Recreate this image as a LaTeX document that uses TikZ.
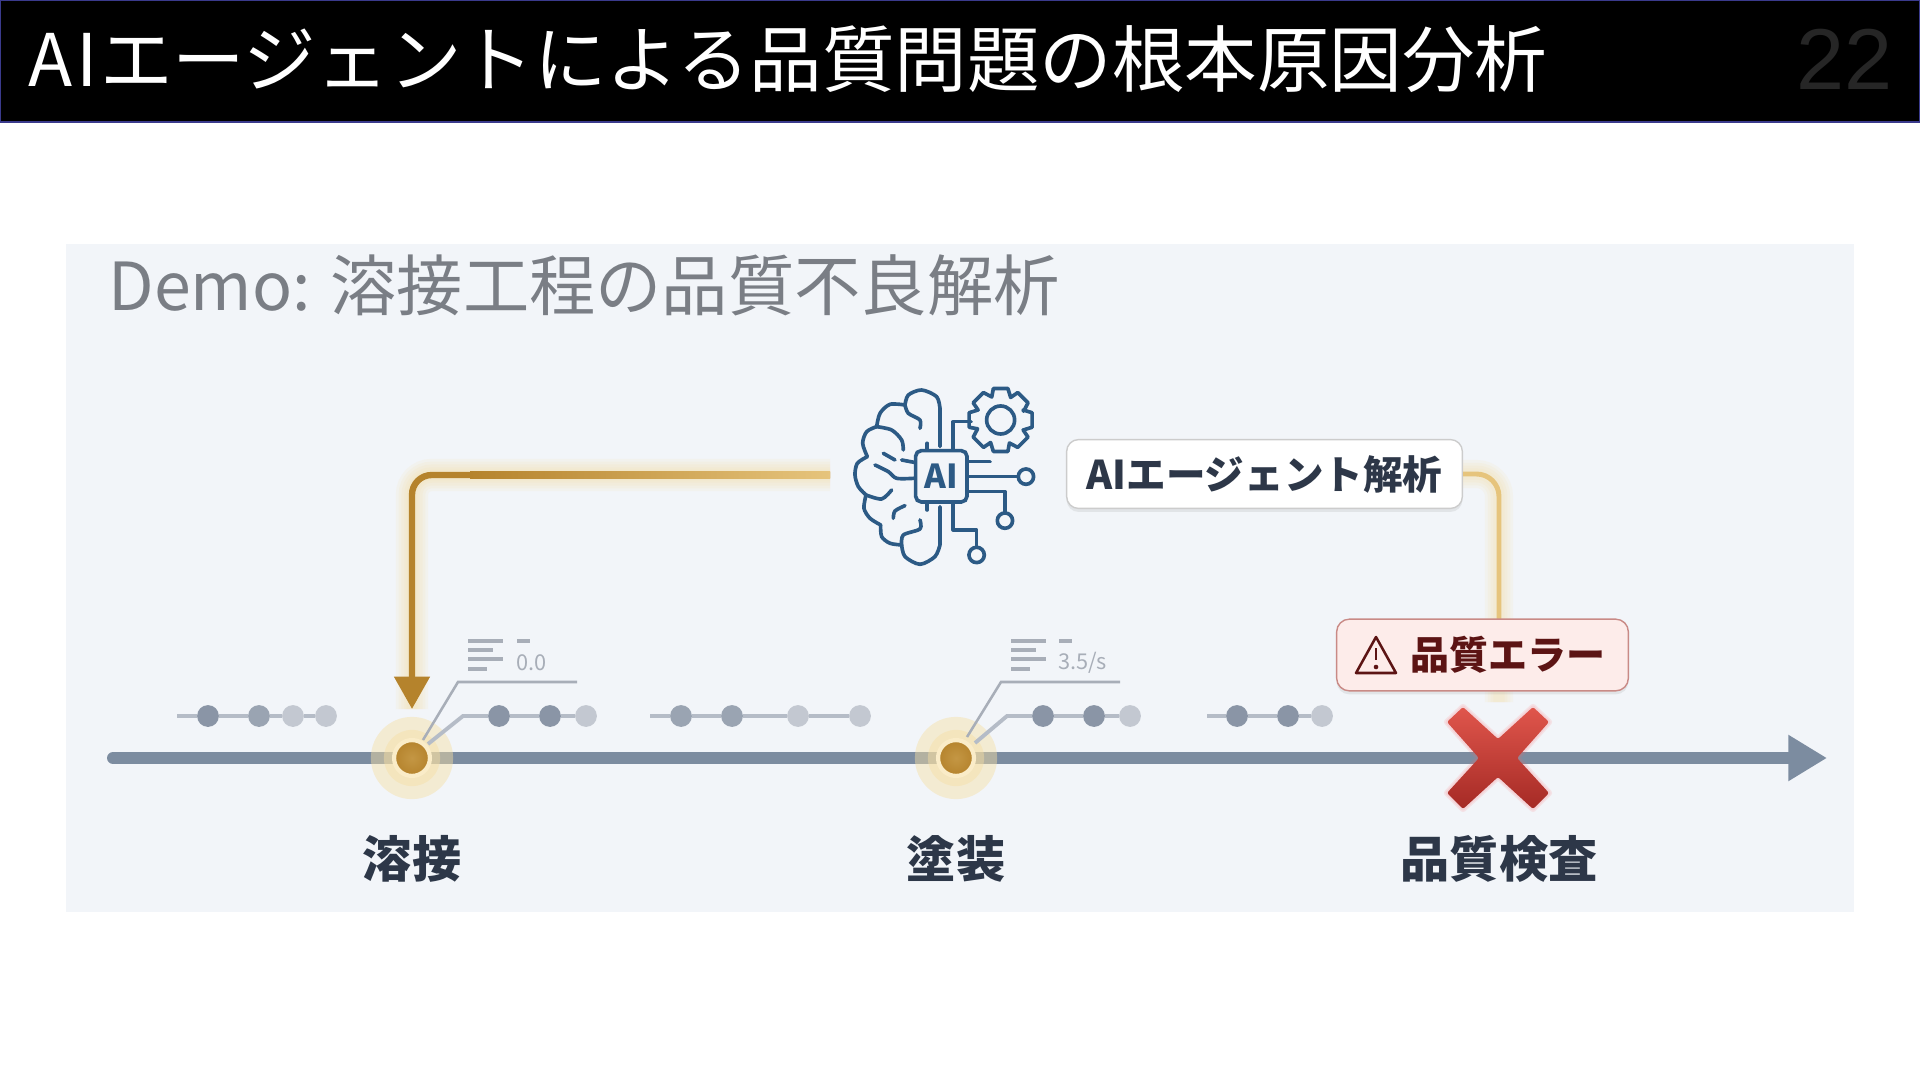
\documentclass[tikz,border=0pt]{standalone}
\usepackage{fontspec}
\setmainfont{Noto Sans CJK JP}
\newfontfamily\pagefont{Liberation Sans}
\usetikzlibrary{arrows.meta,shadows}

\definecolor{panelbg}{HTML}{F2F5F9}
\definecolor{headline}{HTML}{3A3A8C}
\definecolor{slate}{HTML}{7C8CA0}
\definecolor{inktext}{HTML}{2D3748}
\definecolor{demotext}{HTML}{7A7E85}
\definecolor{amberdark}{HTML}{B5832C}
\definecolor{amberlight}{HTML}{E6C47C}
\definecolor{amberglow}{HTML}{F6DFA4}
\definecolor{brainblue}{HTML}{2C5A85}
\definecolor{dotdark}{HTML}{8A95A6}
\definecolor{dotmid}{HTML}{9AA4B2}
\definecolor{dotlight}{HTML}{C3C8D1}
\definecolor{seqline}{HTML}{B5BCC7}
\definecolor{tagline}{HTML}{A8AEB8}
\definecolor{errfill}{HTML}{FDECEA}
\definecolor{errline}{HTML}{C98A86}
\definecolor{errtext}{HTML}{5C1414}
\definecolor{crosstop}{HTML}{E0564C}
\definecolor{crossbottom}{HTML}{A52A25}

\tikzset{
	seqdot/.style={circle, inner sep=0pt, minimum size=31pt},
	seqlink/.style={seqline, line width=5.5pt},
	tagrule/.style={tagline, line width=5pt},
	callout/.style={tagline, line width=3.6pt},
	taglabel/.style={tagline, anchor=west, font=\fontsize{31}{31}\selectfont},
	steplabel/.style={text=inktext, font=\bfseries\fontsize{70}{70}\selectfont},
	halo/.style={circle, inner sep=0pt, fill=amberglow, opacity=.45},
	stepcore/.style={circle, inner sep=0pt, minimum size=51pt, draw=amberglow!60!white, line width=6pt, inner color=amberdark!70!amberlight, outer color=amberdark},
	brainline/.style={brainblue, line width=5.2pt, line cap=round, line join=round},
}

\begin{document}
\begin{tikzpicture}[x=0.05cm, y=-0.05cm]
	\useasboundingbox (0,0) rectangle (1920,1080);
	\fill[white] (0,0) rectangle (1920,1080);
	% header
	\draw[fill=black, draw=headline, line width=2pt] (0.7,0.7) rectangle (1919.3,122);
	\node[white, anchor=west, font=\fontsize{103.2}{103.2}\selectfont] (title) at (26,59) {A\hspace{0.05em}I\hspace{0.04em}エージェントによる品質問題の根本原因分析};
	\node[black!85!white, anchor=east, font=\pagefont\fontsize{123}{123}\selectfont] (pageno) at (1895,59) {22};
	% panel
	\fill[panelbg] (66,244) rectangle (1854,912);
	\node[demotext, anchor=west, font=\fontsize{94.3}{94.3}\selectfont] (demo) at (106,285) {Demo: 溶接工程の品質不良解析};
	% timeline
	\coordinate (linestart) at (113,758);
	\coordinate (lineend) at (1827,758);
	\draw[slate, line width=17pt, line cap=round, -{Triangle[length=55pt, width=62pt]}] (linestart) -- (lineend);
	% steps
	\node[halo, minimum size=117pt] (weldhalo) at (412,758) {};
	\node[halo, minimum size=80pt] (weldinner) at (412,758) {};
	\node[halo, minimum size=117pt] (painthalo) at (956,758) {};
	\node[halo, minimum size=80pt] (paintinner) at (956,758) {};
	\node[stepcore] (weld) at (412,758) {};
	\node[stepcore] (paint) at (956,758) {};
	\node[steplabel] (weldlabel) at (412,859) {溶接};
	\node[steplabel] (paintlabel) at (956,859) {塗装};
	\node[steplabel] (checklabel) at (1499,859) {品質検査};
	% dots above the line
	\foreach \n/\xp/\c in {a/208/dotdark, b/259/dotmid, c/293/dotlight, d/326/dotlight, e/499/dotdark, f/550/dotdark, g/586/dotlight, h/681/dotmid, i/732/dotmid, j/798/dotlight, k/860/dotlight, l/1043/dotdark, m/1094/dotdark, n/1130/dotlight, o/1237/dotdark, p/1288/dotdark, q/1322/dotlight}
		\node[seqdot, fill=\c] (dot\n) at (\xp,716) {};
	\coordinate (seqa) at (177,716);
	\coordinate (seqb) at (650,716);
	\coordinate (seqc) at (1207,716);
	\coordinate (bendweld) at (463,716);
	\coordinate (bendpaint) at (1007,716);
	\draw[seqlink] (seqa) -- (dota) -- (dotb) -- (dotc) -- (dotd);
	\draw[seqlink] (428,744) -- (bendweld) -- (dote) -- (dotf) -- (dotg);
	\draw[seqlink] (seqb) -- (doth) -- (doti) -- (dotj) -- (dotk);
	\draw[seqlink] (975,743) -- (bendpaint) -- (dotl) -- (dotm) -- (dotn);
	\draw[seqlink] (seqc) -- (doto) -- (dotp) -- (dotq);
	% tags
	\draw[callout] (423,740) -- (458,682) -- (577,682);
	\draw[callout] (967,737) -- (1001,682) -- (1120,682);
	\foreach \xa/\xb/\xc/\xd/\xe in {468/503/493/487/517, 1011/1046/1036/1030/1059}{
		\draw[tagrule] (\xa,641) -- (\xb,641);
		\draw[tagrule] (\xa,650) -- (\xc,650);
		\draw[tagrule] (\xa,659) -- (\xb,659);
		\draw[tagrule] (\xa,669) -- (\xd,669);
		\draw[tagrule] (\xe,641) -- +(13,0);
	}
	\node[taglabel, inner sep=0pt] (weldtag) at (516,663) {0.0};
	\node[taglabel, inner sep=0pt] (painttag) at (1058,663) {3.5/s};
	% feedback arrow
	\coordinate (fbstart) at (830,475);
	\coordinate (fbtip) at (412,709);
	\foreach \w in {46,38,30,22,15}
		\draw[amberglow, opacity=.13, line width=\w pt, rounded corners=28pt] (fbstart) -| (fbtip);
	\draw[amberdark, line width=9pt, rounded corners=28pt, -{Triangle[length=46pt, width=49pt]}] (fbstart) -| (fbtip);
	\shade[left color=amberdark, right color=amberlight] (470,471.8) rectangle (830,478.2);
	% agent label and link to the error
	\node[fill=white, draw=black!20, line width=2pt, rounded corners=17pt, minimum width=563pt, minimum height=98pt, inner sep=0pt, text=inktext, font=\bfseries\fontsize{56.3}{56.3}\selectfont, drop shadow={shadow xshift=0pt, shadow yshift=-5pt, opacity=.14}] (agent) at (1264.5,474) {AIエージェント解析};
	\coordinate (errtop) at (1499,625);
	\coordinate (errglow) at (1499,702);
	\foreach \w in {40,32,24,16}
		\draw[amberglow, opacity=.13, line width=\w pt, rounded corners=32pt] (agent.east) -| (errglow);
	\draw[amberlight, line width=7pt, rounded corners=32pt] (agent.east) -| (errtop);
	% error box
	\node[fill=errfill, draw=errline, line width=2pt, rounded corners=18pt, minimum width=415pt, minimum height=102pt, inner sep=0pt, drop shadow={shadow xshift=0pt, shadow yshift=-5pt, opacity=.14}] (errbox) at (1482.5,655) {};
	\node[text=errtext, font=\bfseries\fontsize{55.5}{55.5}\selectfont] (errlabel) at (1508,655) {品質エラー};
	\draw[errtext, line width=3.6pt, line join=round] (1376,637) -- (1396,673) -- (1356,673) -- cycle;
	\draw[errtext, line width=3.6pt] (1376,648) -- (1376,660);
	\fill[errtext] (1376,667) circle (2.3);
	% red cross
	\foreach \w in {9,5}
		\draw[red!60!white, opacity=.12, line width=\w pt, line join=round] (1498,739) -- (1533,707) -- (1549,722) -- (1517,758) -- (1549,793) -- (1533,809) -- (1498,777) -- (1463,809) -- (1447,793) -- (1479,758) -- (1447,722) -- (1463,707) -- cycle;
	\shade[top color=crosstop, bottom color=crossbottom, rounded corners=3pt] (1498,739) -- (1533,707) -- (1549,722) -- (1517,758) -- (1549,793) -- (1533,809) -- (1498,777) -- (1463,809) -- (1447,793) -- (1479,758) -- (1447,722) -- (1463,707) -- cycle;
	% brain icon
	\begin{scope}[shift={(840,375)}, x=0.016667cm, y=-0.016667cm]
		\draw[brainline] (300,215) -- (300,100) plot[smooth] coordinates {(300,100) (290,65) (245,45) (205,60) (195,90)};
		\draw[brainline] plot[smooth] coordinates {(195,90) (150,88) (120,115) (110,155)};
		\draw[brainline] plot[smooth] coordinates {(110,155) (80,170) (68,205) (82,245)};
		\draw[brainline] plot[smooth] coordinates {(82,245) (52,265) (45,300) (55,335) (78,360)};
		\draw[brainline] plot[smooth] coordinates {(78,360) (72,400) (90,430) (122,450)};
		\draw[brainline] plot[smooth] coordinates {(122,450) (125,485) (150,505) (185,510)};
		\draw[brainline] (300,395) -- (300,510) plot[smooth] coordinates {(300,510) (285,545) (240,568) (195,545) (185,510)};
		\draw[brainline] plot[smooth] coordinates {(195,90) (205,115) (240,135) (240,160)};
		\draw[brainline] plot[smooth] coordinates {(110,155) (155,165) (185,195) (190,225)};
		\draw[brainline] (130,235) -- (165,255);
		\draw[brainline] (185,255) -- (222,262);
		\draw[brainline] plot[smooth] coordinates {(105,270) (145,290) (170,310) (222,310)};
		\draw[brainline] plot[smooth] coordinates {(78,360) (125,372) (155,345)};
		\draw[brainline] plot[smooth] coordinates {(160,430) (165,408) (195,392)};
		\draw[brainline] plot[smooth] coordinates {(185,510) (190,480) (240,462) (240,435)};
		\draw[brainline] (262,205) -- (262,222);
		\draw[brainline] (262,385) -- (262,405);
		\node[draw=brainblue, fill=panelbg, line width=5.2pt, rounded corners=8pt, inner sep=0pt, minimum size=73pt, text=brainblue, font=\bfseries\fontsize{47}{47}\selectfont] (chip) at (304,304) {AI};
		% circuits
		\draw[brainline] (340,222) -- (340,140) -- (393,140);
		\draw[brainline] (385,260) -- (450,260);
		\draw[brainline] (385,305) -- (535,305);
		\draw[brainline] (385,350) -- (495,350) -- (495,412);
		\draw[brainline] (340,385) -- (340,465) -- (410,465) -- (410,515);
		\draw[brainline] (558,305) circle (23);
		\draw[brainline] (495,437) circle (23);
		\draw[brainline] (410,540) circle (23);
		% gear
		\draw[brainline, shift={(482,135)}] (-24:74) \foreach \a in {0,45,...,315}{ -- (\a-13:97) -- (\a+13:97) -- (\a+24:74)} -- cycle;
		\draw[brainline] (482,135) circle (42);
	\end{scope}
\end{tikzpicture}
\end{document}
